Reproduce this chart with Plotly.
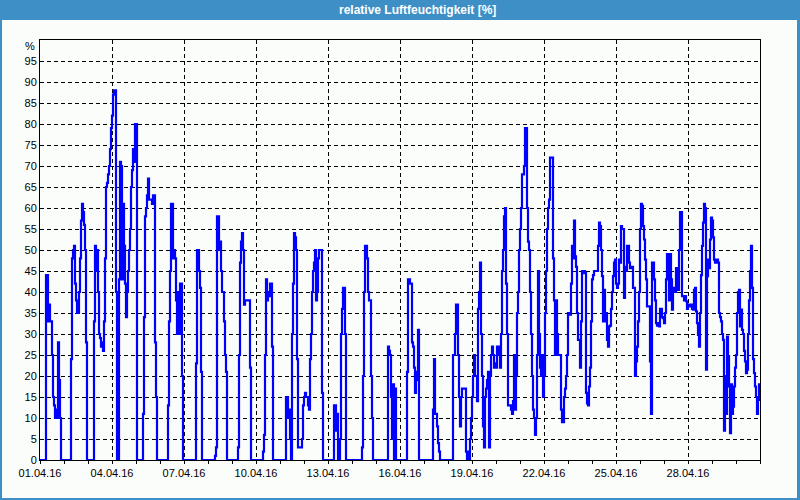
import pandas as pd
import plotly.graph_objects as go

# hourly relative humidity readings (%), one list per day (April 2016)
day01 = [0, 0, 0, 0, 0, 0, 44, 44, 33, 37, 33, 33, 25, 15, 13, 10, 12, 10, 28, 19, 10, 0, 0, 0]
day02 = [0, 0, 0, 0, 0, 0, 0, 24, 48, 50, 51, 42, 38, 35, 35, 40, 48, 57, 61, 59, 56, 50, 28, 0]
day03 = [0, 0, 0, 0, 0, 0, 33, 51, 45, 50, 40, 30, 29, 27, 28, 26, 33, 48, 65, 66, 68, 70, 74, 79]
day04 = [82, 87, 88, 88, 40, 0, 0, 43, 71, 70, 43, 61, 51, 42, 34, 40, 45, 50, 55, 65, 69, 74, 71, 80]
day05 = [80, 0, 0, 0, 0, 0, 0, 11, 34, 58, 60, 63, 67, 62, 62, 62, 61, 63, 63, 28, 15, 0, 0, 0]
day06 = [0, 0, 0, 0, 0, 0, 0, 0, 13, 33, 45, 61, 61, 48, 50, 48, 38, 30, 40, 30, 42, 42, 20, 0]
day07 = [0, 0, 0, 0, 0, 0, 0, 0, 0, 0, 0, 0, 23, 50, 50, 45, 41, 21, 0, 0, 0, 0, 0, 0]
day08 = [0, 0, 0, 0, 0, 0, 0, 1, 3, 58, 58, 50, 52, 45, 40, 40, 33, 25, 21, 0, 0, 0, 0, 0]
day09 = [0, 0, 0, 0, 0, 0, 3, 25, 47, 52, 54, 50, 37, 38, 38, 38, 38, 38, 22, 0, 0, 0, 0, 0]
day10 = [0, 0, 0, 0, 0, 0, 0, 2, 6, 25, 43, 38, 40, 39, 42, 42, 27, 0, 0, 0, 0, 0, 0, 0]
day11 = [0, 0, 0, 0, 0, 0, 15, 15, 10, 12, 5, 0, 30, 42, 54, 53, 50, 24, 3, 3, 3, 3, 5, 13]
day12 = [15, 16, 15, 15, 13, 12, 24, 30, 40, 45, 47, 50, 38, 40, 48, 50, 50, 50, 16, 0, 0, 0, 0, 0]
day13 = [0, 0, 0, 0, 0, 0, 13, 13, 7, 11, 0, 0, 5, 30, 36, 41, 41, 30, 0, 0, 0, 0, 0, 0]
day14 = [0, 0, 0, 0, 0, 0, 0, 0, 0, 0, 3, 20, 40, 51, 51, 48, 40, 38, 38, 20, 10, 0, 0, 0]
day15 = [0, 0, 0, 0, 0, 0, 0, 0, 0, 0, 0, 0, 27, 26, 25, 15, 5, 18, 0, 17, 0, 0, 0, 0]
day16 = [0, 0, 0, 0, 0, 0, 0, 21, 43, 43, 42, 42, 28, 27, 22, 16, 21, 19, 31, 0, 0, 0, 0, 0]
day17 = [0, 0, 0, 0, 0, 0, 0, 0, 0, 12, 24, 11, 11, 8, 4, 2, 0, 0, 0, 0, 0, 0, 0, 0]
day18 = [0, 0, 0, 0, 0, 25, 25, 30, 37, 37, 25, 15, 8, 15, 17, 17, 17, 17, 2, 0, 2, 0, 5, 10]
day19 = [15, 20, 25, 20, 20, 14, 36, 40, 47, 30, 20, 8, 3, 15, 17, 19, 21, 3, 20, 25, 27, 25, 22, 23]
day20 = [22, 27, 27, 25, 22, 30, 45, 50, 58, 60, 42, 30, 13, 13, 13, 12, 11, 14, 25, 12, 20, 35, 40, 50]
day21 = [55, 60, 68, 68, 70, 79, 79, 60, 52, 50, 40, 30, 20, 12, 10, 6, 10, 25, 45, 30, 22, 20, 25, 15]
day22 = [20, 35, 45, 55, 60, 62, 72, 72, 72, 48, 38, 25, 38, 30, 25, 25, 25, 12, 9, 9, 15, 17, 20, 25]
day23 = [35, 35, 34.6, 42, 51, 48, 57, 48.5, 46, 35, 28.6, 28.6, 22, 33, 45, 44.5, 45, 44.5, 16, 13.5, 13, 17.5, 22, 33]
day24 = [43, 44, 45, 45, 45, 45, 51, 56.5, 55.7, 50, 43.8, 33, 40.5, 33, 35, 28.6, 27, 31.8, 32, 36, 40, 43.8, 47, 47.7]
day25 = [42, 41, 42, 47.7, 47, 55.7, 55, 55, 38.6, 46, 45, 51, 51, 47, 45.7, 46, 46, 41, 41, 20, 23.5, 27, 33, 40]
day26 = [55, 61, 60.5, 55.7, 52.5, 47.7, 43, 36.6, 36.6, 36.6, 23.5, 11, 47, 47, 43, 38, 32.6, 32, 32.6, 31.8, 36, 36, 34, 33.8]
day27 = [32.6, 35, 43, 49, 43, 38, 49, 43, 35.8, 41, 40, 40, 45.7, 43.8, 40.5, 50, 59, 59, 39, 39, 38, 39, 37.8, 36]
day28 = [36.6, 37, 36.6, 37, 36, 35.8, 40.5, 41, 35.4, 32.6, 29.8, 27, 35, 44, 51, 56.5, 61, 60, 21.5, 43.8, 47.7, 45.7, 52.5, 57.7]
day29 = [57, 53, 47.7, 47, 47, 47.7, 47, 35, 34, 33, 30, 28.6, 7, 20, 11, 29.4, 24.7, 17.5, 6.4, 18, 11, 12.7, 17.5, 22]
day30 = [25, 35, 40, 40.5, 31.8, 35.8, 31, 30, 26, 23.5, 20.7, 21.5, 30, 38, 45, 51, 41, 24, 20.7, 17.5, 15, 11, 14.3, 18.3]

humidity = (day01 + day02 + day03 + day04 + day05 + day06 + day07 + day08 + day09 + day10
            + day11 + day12 + day13 + day14 + day15 + day16 + day17 + day18 + day19 + day20
            + day21 + day22 + day23 + day24 + day25 + day26 + day27 + day28 + day29 + day30)
times = pd.date_range("2016-04-01 00:00", periods=len(humidity), freq="h")

tick_dates = ["2016-04-01", "2016-04-04", "2016-04-07", "2016-04-10", "2016-04-13",
              "2016-04-16", "2016-04-19", "2016-04-22", "2016-04-25", "2016-04-28"]
tick_labels = ["01.04.16", "04.04.16", "07.04.16", "10.04.16", "13.04.16",
               "16.04.16", "19.04.16", "22.04.16", "25.04.16", "28.04.16"]
minor_dates = pd.date_range("2016-04-01", "2016-05-01", freq="D")
y_ticks = [0, 5, 10, 15, 20, 25, 30, 35, 40, 45, 50, 55, 60, 65, 70, 75, 80, 85, 90, 95]
y_labels = [str(v) for v in y_ticks]
title_text = "relative Luftfeuchtigkeit [%]"
unit_text = "%"

FRAME = "#3d8fc6"
BG = "#fbfdfb"
W, H = 800, 500
L, R, T, B = 40, 40, 40, 40
PW, PH = W - L - R, H - T - B


def px_x(p):
    return (p - L) / PW


def px_y(q):
    return (H - B - q) / PH


fig = go.Figure(go.Scatter(
    x=times, y=humidity, mode="lines",
    line=dict(color="#0000ff", width=2.2, shape="hv"),
    hoverinfo="skip"))

axis_font = dict(family="Liberation Sans, Arial, sans-serif", size=11, color="black")

fig.update_layout(
    width=W, height=H,
    margin=dict(l=L, r=R, t=T, b=B),
    paper_bgcolor=BG, plot_bgcolor=BG,
    showlegend=False,
    xaxis=dict(
        type="date", range=["2016-04-01", "2016-05-01"],
        tickmode="array", tickvals=tick_dates, ticktext=tick_labels,
        ticks="outside", ticklen=3, tickcolor="black", tickwidth=1,
        showgrid=True, gridcolor="black", gridwidth=1, griddash="4px,3px",
        showline=True, linecolor="black", linewidth=1, mirror=True,
        zeroline=False, tickfont=axis_font,
        minor=dict(tickmode="array", tickvals=list(minor_dates), ticks="outside",
                   ticklen=3, tickcolor="black", tickwidth=1, showgrid=False),
    ),
    yaxis=dict(
        range=[0, 100], tickmode="array", tickvals=y_ticks, ticktext=y_labels,
        ticks="", showgrid=True, gridcolor="black", gridwidth=1, griddash="4px,3px",
        showline=True, linecolor="black", linewidth=1, mirror=True,
        zeroline=False, tickfont=axis_font,
    ),
    shapes=[
        # title bar
        dict(type="rect", xref="paper", yref="paper", x0=px_x(0), x1=px_x(W),
             y0=px_y(20), y1=px_y(0), fillcolor=FRAME, line=dict(width=0), layer="above"),
        # left border
        dict(type="rect", xref="paper", yref="paper", x0=px_x(0), x1=px_x(2),
             y0=px_y(H), y1=px_y(0), fillcolor=FRAME, line=dict(width=0), layer="above"),
        # right border
        dict(type="rect", xref="paper", yref="paper", x0=px_x(W - 3), x1=px_x(W),
             y0=px_y(H), y1=px_y(0), fillcolor=FRAME, line=dict(width=0), layer="above"),
        # bottom border
        dict(type="rect", xref="paper", yref="paper", x0=px_x(0), x1=px_x(W),
             y0=px_y(H), y1=px_y(H - 2), fillcolor=FRAME, line=dict(width=0), layer="above"),
    ],
    annotations=[
        dict(text="<b>" + title_text + "</b>", xref="paper", yref="paper",
             x=px_x(417), y=px_y(10), xanchor="center", yanchor="middle", showarrow=False,
             font=dict(family="Liberation Sans, Arial, sans-serif", size=12, color="white")),
        dict(text=unit_text, xref="paper", yref="y", x=px_x(37), y=100, yshift=-6,
             xanchor="right", yanchor="middle", showarrow=False, font=axis_font),
    ],
)

fig.write_html("out.html")
